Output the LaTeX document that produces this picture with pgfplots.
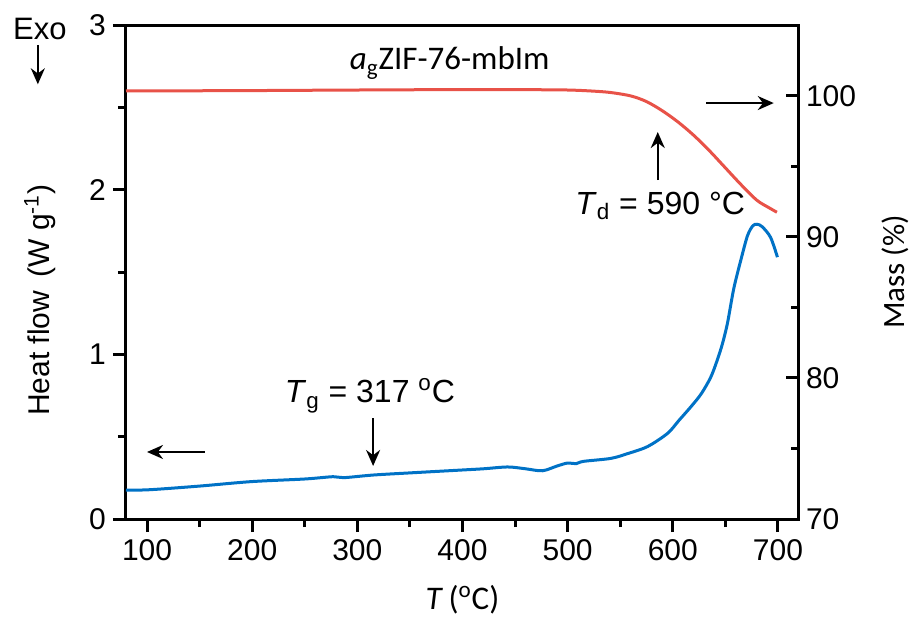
\documentclass[border=0pt]{standalone}
\usepackage{fontspec}
\setmainfont{Liberation Sans}
\newfontfamily\carlito{Carlito}
\usepackage{pgfplots}
\pgfplotsset{compat=1.18}
\usetikzlibrary{arrows.meta}

\definecolor{massred}{RGB}{232,82,72}
\definecolor{hfblue}{RGB}{0,114,198}

\begin{document}
\begin{tikzpicture}
\pgfplotsset{
  dta/.style={
    scale only axis, width=336.5pt, height=247pt,
    xmin=80, xmax=720,
    axis line style={line width=1.5pt},
    tick style={black, line width=1.5pt},
    major tick length=6.5pt, minor tick length=4pt,
    tick label style={font=\fontsize{15}{17}\selectfont},
    /pgf/number format/assume math mode=true,
    clip=false,
  },
}
\begin{axis}[dta, name=main,
  ymin=0, ymax=3,
  xtick={100,200,...,700}, minor x tick num=1,
  ytick={0,1,2,3}, minor y tick num=1,
  tick align=outside, xtick pos=left, ytick pos=left,
]
\addplot[hfblue, line width=1.5pt, smooth] coordinates {
(80,0.175)(103,0.178)(150,0.2)(199,0.227)(250,0.243)(277,0.257)(287,0.251)
(315,0.267)(350,0.28)(398,0.297)(420,0.305)(443,0.316)(460,0.305)(476,0.293)
(490,0.322)(500,0.34)(508,0.336)(515,0.35)(541,0.368)(557,0.397)(576,0.44)
(595,0.52)(606,0.60)(617,0.68)(627,0.76)(636,0.86)(642,0.96)(647,1.06)
(652,1.19)(658,1.40)(665,1.58)(671,1.72)(676,1.78)(680,1.79)(685,1.775)
(693,1.71)(699.5,1.59)};

% annotations
\node[font=\fontsize{15.5}{17}\selectfont] at (rel axis cs:-0.128,0.992) {Exo};
\draw[line width=1.1pt, -{Stealth[length=8pt,width=7pt]}] (rel axis cs:-0.131,0.96) -- (rel axis cs:-0.131,0.88);
\draw[line width=1.1pt, -{Stealth[length=8pt,width=7pt]}] (axis cs:155,0.407) -- (axis cs:100,0.407);
\draw[line width=1.1pt, -{Stealth[length=8pt,width=7pt]}] (axis cs:632,2.526) -- (axis cs:696,2.526);
\draw[line width=1.1pt, -{Stealth[length=8pt,width=7pt]}] (axis cs:315,0.613) -- (axis cs:315,0.322);
\draw[line width=1.1pt, -{Stealth[length=8pt,width=7pt]}] (axis cs:585.7,2.058) -- (axis cs:585.7,2.35);
\node[font=\fontsize{16}{18}\selectfont] at (axis cs:312,0.75) {\textit{T}\textsubscript{g} = 317 \textsuperscript{o}C};
\node[font=\fontsize{16}{18}\selectfont] at (axis cs:588,1.90) {\textit{T}\textsubscript{d} = 590 °C};
\node[font=\carlito\fontsize{16.5}{18}\selectfont] at (rel axis cs:0.481,0.923) {\textit{a}\textsubscript{g}ZIF-76-mbIm};
\node[font=\fontsize{15}{17}\selectfont, rotate=90] at (rel axis cs:-0.128,0.443) {Heat flow\, (W g\textsuperscript{-1})};
\node[font=\carlito\fontsize{16.5}{18}\selectfont] at (rel axis cs:0.5,-0.164) {\textit{T}\,(\textsuperscript{o}C)};
\end{axis}

\begin{axis}[dta,
  ymin=70, ymax=105.03,
  xtick=\empty, axis line style={draw=none},
  ytick={70,80,90,100}, minor y tick num=1,
  tick align=inside, ytick pos=right, yticklabel pos=right,
  ytick style={draw=none},
]
\addplot[massred, line width=1.5pt, smooth] coordinates {
(80,100.35)(120,100.36)(200,100.38)(300,100.42)(400,100.45)(470,100.44)(500,100.42)
(520,100.36)(540,100.25)(560,100.0)(575,99.6)(590,98.95)(605,98.15)(620,97.2)
(635,96.1)(650,94.9)(665,93.7)(680,92.6)(692,92.05)(699,91.75)};
% inward ticks of the mass axis
\pgfplotsinvokeforeach{70,80,90,100}{\draw[line width=1.5pt] (axis cs:720,#1) -- ([xshift=-6.5pt]axis cs:720,#1);}
\pgfplotsinvokeforeach{75,85,95}{\draw[line width=1.5pt] (axis cs:720,#1) -- ([xshift=-4pt]axis cs:720,#1);}
\node[font=\carlito\fontsize{15.5}{17}\selectfont, rotate=90] at (rel axis cs:1.143,0.5) {Mass (\%)};
\end{axis}

\pgfresetboundingbox
\path[use as bounding box] ([shift={(-63pt,-48.5pt)}]main.south west) rectangle ++(457.5pt,308pt);
\end{tikzpicture}
\end{document}
